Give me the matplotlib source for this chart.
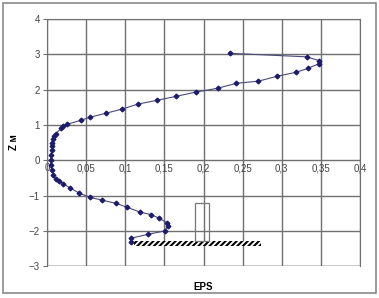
import matplotlib
matplotlib.use('Agg')
from matplotlib import pyplot as plt
from matplotlib.patches import Rectangle

# profile data
eps = [0.234, 0.332, 0.348, 0.348, 0.333, 0.318, 0.294, 0.270, 0.242, 0.218,
       0.190, 0.165, 0.141, 0.116, 0.096, 0.075, 0.055, 0.043, 0.026, 0.021,
       0.018, 0.011, 0.009, 0.008, 0.007, 0.006, 0.006, 0.005, 0.005, 0.005,
       0.006, 0.008, 0.011, 0.015, 0.020, 0.030, 0.041, 0.055, 0.070, 0.088,
       0.102, 0.119, 0.133, 0.143, 0.153, 0.154, 0.151, 0.129, 0.107, 0.107]
z = [3.03, 2.93, 2.82, 2.74, 2.60, 2.49, 2.38, 2.24, 2.18, 2.04,
     1.93, 1.81, 1.70, 1.59, 1.45, 1.33, 1.22, 1.13, 1.02, 0.96,
     0.90, 0.75, 0.68, 0.60, 0.50, 0.40, 0.28, 0.14, 0.0, -0.14,
     -0.28, -0.42, -0.52, -0.58, -0.66, -0.79, -0.93, -1.05, -1.13, -1.22,
     -1.33, -1.47, -1.54, -1.64, -1.77, -1.86, -2.0, -2.1, -2.21, -2.32]

# ground (hatched) and pile outline
ground_x = (0.111, 0.273)
ground_y = (-2.44, -2.28)
pile_x = (0.189, 0.207)
pile_y = (-2.28, -1.22)

xticks = [0, 0.05, 0.1, 0.15, 0.2, 0.25, 0.3, 0.35, 0.4]
xlabels = ['0', '0,05', '0,1', '0,15', '0,2', '0,25', '0,3', '0,35', '0,4']
yticks = [-3, -2, -1, 0, 1, 2, 3, 4]

plt.rcParams['font.family'] = ['Liberation Sans', 'DejaVu Sans']
plt.rcParams['hatch.linewidth'] = 1.5

fig = plt.figure(figsize=(3.79, 2.98), dpi=100)
ax = fig.add_axes([0.124, 0.107, 0.826, 0.829])

fig.patches.append(Rectangle((0.008, 0.017), 0.984, 0.973, transform=fig.transFigure,
                             fill=False, edgecolor='#8a8a8a', linewidth=1.2))

ax.add_patch(Rectangle((ground_x[0], ground_y[0]), ground_x[1] - ground_x[0],
                       ground_y[1] - ground_y[0], facecolor='white',
                       edgecolor='black', linewidth=0, hatch='//////', zorder=3))
ax.add_patch(Rectangle((pile_x[0], pile_y[0]), pile_x[1] - pile_x[0],
                       pile_y[1] - pile_y[0], fill=False,
                       edgecolor='#777777', linewidth=0.9, zorder=3))

ax.plot(eps, z, color='#4a4a7a', linewidth=0.8, marker='D', markersize=2.4,
        markerfacecolor='#1c1c6b', markeredgecolor='#1c1c6b', zorder=4)

ax.set_xlim(0, 0.4)
ax.set_ylim(-3, 4)
ax.set_xticks(xticks)
ax.set_xticklabels(xlabels)
ax.set_yticks(yticks)
ax.grid(True, color='#707070', linewidth=1.0)
ax.set_axisbelow(True)

for s in ['top', 'right', 'left']:
    ax.spines[s].set_color('#707070')
ax.spines['bottom'].set_position(('data', 0))
ax.spines['bottom'].set_visible(False)
ax.axhline(-3, color='#707070', linewidth=1.0, zorder=1)

ax.tick_params(axis='x', length=0, pad=2, labelsize=7, labelcolor='#444444')
ax.tick_params(axis='y', length=3, color='#707070', pad=2, labelsize=7,
               labelcolor='#444444')

ax.set_xlabel('EPS', fontsize=7, fontweight='bold')
ax.set_ylabel('Z м', fontsize=7, fontweight='bold')
ax.xaxis.set_label_coords(0.5, -0.065)
ax.yaxis.set_label_coords(-0.09, 0.5)

fig.savefig('out.png', dpi=100)
